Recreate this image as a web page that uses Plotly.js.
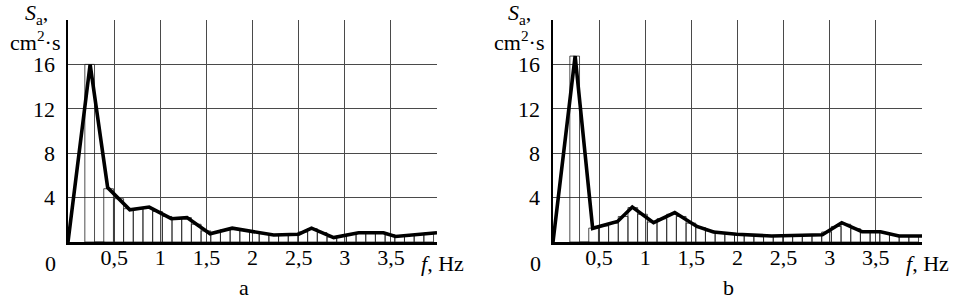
<!DOCTYPE html>
<html>
<head>
<meta charset="utf-8">
<script src="https://cdn.plot.ly/plotly-3.0.1.min.js"></script>
<style>html,body{margin:0;padding:0;background:#fff;}#chart{width:958px;height:302px;}</style>
</head>
<body>
<div id="chart"></div>
<script>
// ---- data ----
// line vertices, panel a
const lineFreqA = [0, 0.24, 0.43, 0.67, 0.88, 1.12, 1.29, 1.54, 1.78, 2.23, 2.5, 2.64, 2.88, 3.15, 3.42, 3.55, 4.0];
const lineSA    = [0, 16, 4.9, 2.9, 3.15, 2.1, 2.2, 0.75, 1.25, 0.63, 0.7, 1.25, 0.4, 0.84, 0.84, 0.5, 0.84];
// line vertices, panel b
const lineFreqB = [0, 0.24, 0.43, 0.70, 0.86, 1.09, 1.32, 1.56, 1.74, 1.99, 2.37, 2.82, 2.92, 3.13, 3.35, 3.55, 3.75, 4.0];
const lineSB    = [0, 16.75, 1.23, 1.85, 3.15, 1.75, 2.65, 1.4, 0.9, 0.7, 0.54, 0.6, 0.65, 1.74, 0.93, 0.93, 0.54, 0.54];
// histogram bars (bin centres, Hz)
const barFreq = [0.235, 0.34, 0.44, 0.55, 0.655, 0.76, 0.865, 0.97, 1.075, 1.18, 1.285, 1.39, 1.495, 1.6, 1.705, 1.81, 1.915, 2.02, 2.125, 2.23, 2.335, 2.44, 2.545, 2.65, 2.755, 2.86, 2.965, 3.07, 3.175, 3.28, 3.385, 3.49, 3.595, 3.7, 3.805, 3.91];
const barSA = [16, 0, 4.8, 3.9, 3.0, 3.0, 3.1, 2.75, 2.3, 2.1, 2.2, 1.6, 1.0, 0.85, 1.1, 1.2, 1.05, 0.9, 0.75, 0.63, 0.65, 0.68, 0.9, 1.2, 0.85, 0.45, 0.55, 0.7, 0.84, 0.84, 0.84, 0.65, 0.55, 0.65, 0.72, 0.8];
const barSB = [16.75, 0, 1.25, 1.45, 1.7, 2.3, 3.1, 2.5, 1.8, 2.1, 2.5, 2.3, 1.7, 1.3, 1.0, 0.85, 0.75, 0.7, 0.65, 0.6, 0.55, 0.55, 0.57, 0.58, 0.6, 0.62, 0.9, 1.4, 1.6, 1.2, 0.9, 0.9, 0.85, 0.65, 0.54, 0.54];
// tick labels
const xTickVals = [0, 0.5, 1, 1.5, 2, 2.5, 3, 3.5, 4];
const xTickText = ['', '0,5', '1', '1,5', '2', '2,5', '3', '3,5', ''];
const yTickVals = [0, 4, 8, 12, 16, 20];
const yTickText = ['', '4', '8', '12', '16', ''];
const panelLabels = ['a', 'b'];

// ---- drawing ----
const FONT = 'Liberation Serif';
const FS = 22;
const W = 958, PT = 20, PB = 242;
const px = v => v / W;
const py = v => (PB - v) / (PB - PT);

function barTrace(y, xa, ya) {
  return {type: 'bar', x: barFreq, y: y, xaxis: xa, yaxis: ya, width: 0.105,
    marker: {color: 'rgba(255,255,255,0)', line: {color: '#222', width: 0.8}},
    hoverinfo: 'skip', showlegend: false};
}
function lineTrace(x, y, xa, ya) {
  return {type: 'scatter', mode: 'lines', x: x, y: y, xaxis: xa, yaxis: ya,
    line: {color: '#000', width: 3.6}, showlegend: false};
}
const data = [
  barTrace(barSA, 'x', 'y'), lineTrace(lineFreqA, lineSA, 'x', 'y'),
  barTrace(barSB, 'x2', 'y2'), lineTrace(lineFreqB, lineSB, 'x2', 'y2')
];

function xAxis(domain, anchor) {
  return {domain: domain, anchor: anchor, range: [0, 4], tickvals: xTickVals, ticktext: xTickText,
    showgrid: true, gridcolor: '#4a4a4a', gridwidth: 1, zeroline: false,
    showline: true, linecolor: '#000', linewidth: 2.5, ticks: '', ticklabelstandoff: -6,
    tickfont: {family: FONT, size: FS, color: '#000'}, fixedrange: true};
}
function yAxis(domain, anchor) {
  return {domain: [0, 1], anchor: anchor, range: [0, 20], tickvals: yTickVals, ticktext: yTickText,
    showgrid: true, gridcolor: '#4a4a4a', gridwidth: 1, zeroline: false,
    showline: true, linecolor: '#000', linewidth: 2.5, ticks: '', ticklabelstandoff: 6,
    tickfont: {family: FONT, size: FS, color: '#000'}, fixedrange: true};
}

const ann = (x, y, text, xanchor) => ({xref: 'paper', yref: 'paper', x: px(x), y: py(y), text: text,
  showarrow: false, xanchor: xanchor || 'center', yanchor: 'middle',
  font: {family: FONT, size: FS, color: '#000'}});

const layout = {
  width: 958, height: 302,
  margin: {l: 0, r: 0, t: PT, b: 302 - PB, pad: 0},
  paper_bgcolor: '#fff', plot_bgcolor: '#fff',
  bargap: 0,
  font: {family: FONT, size: FS, color: '#000'},
  xaxis: xAxis([px(68), px(437)], 'y'),
  yaxis: yAxis([0, 1], 'x'),
  xaxis2: xAxis([px(553), px(922)], 'y2'),
  yaxis2: yAxis([0, 1], 'x2'),
  annotations: [
    ann(50, 263, '0'), ann(535, 263, '0'),
    ann(442, 263, '<i>f</i>, Hz'), ann(927, 263, '<i>f</i>, Hz'),
    ann(36, 14, '<i>S</i><sub>a</sub>,'), ann(519, 14, '<i>S</i><sub>a</sub>,'),
    ann(34.5, 41, 'cm<sup>2</sup>·s'), ann(518.5, 41, 'cm<sup>2</sup>·s'),
    ann(244, 287, panelLabels[0]), ann(728, 287, panelLabels[1])
  ]
};

Plotly.newPlot('chart', data, layout, {staticPlot: true, displayModeBar: false});
</script>
</body>
</html>
